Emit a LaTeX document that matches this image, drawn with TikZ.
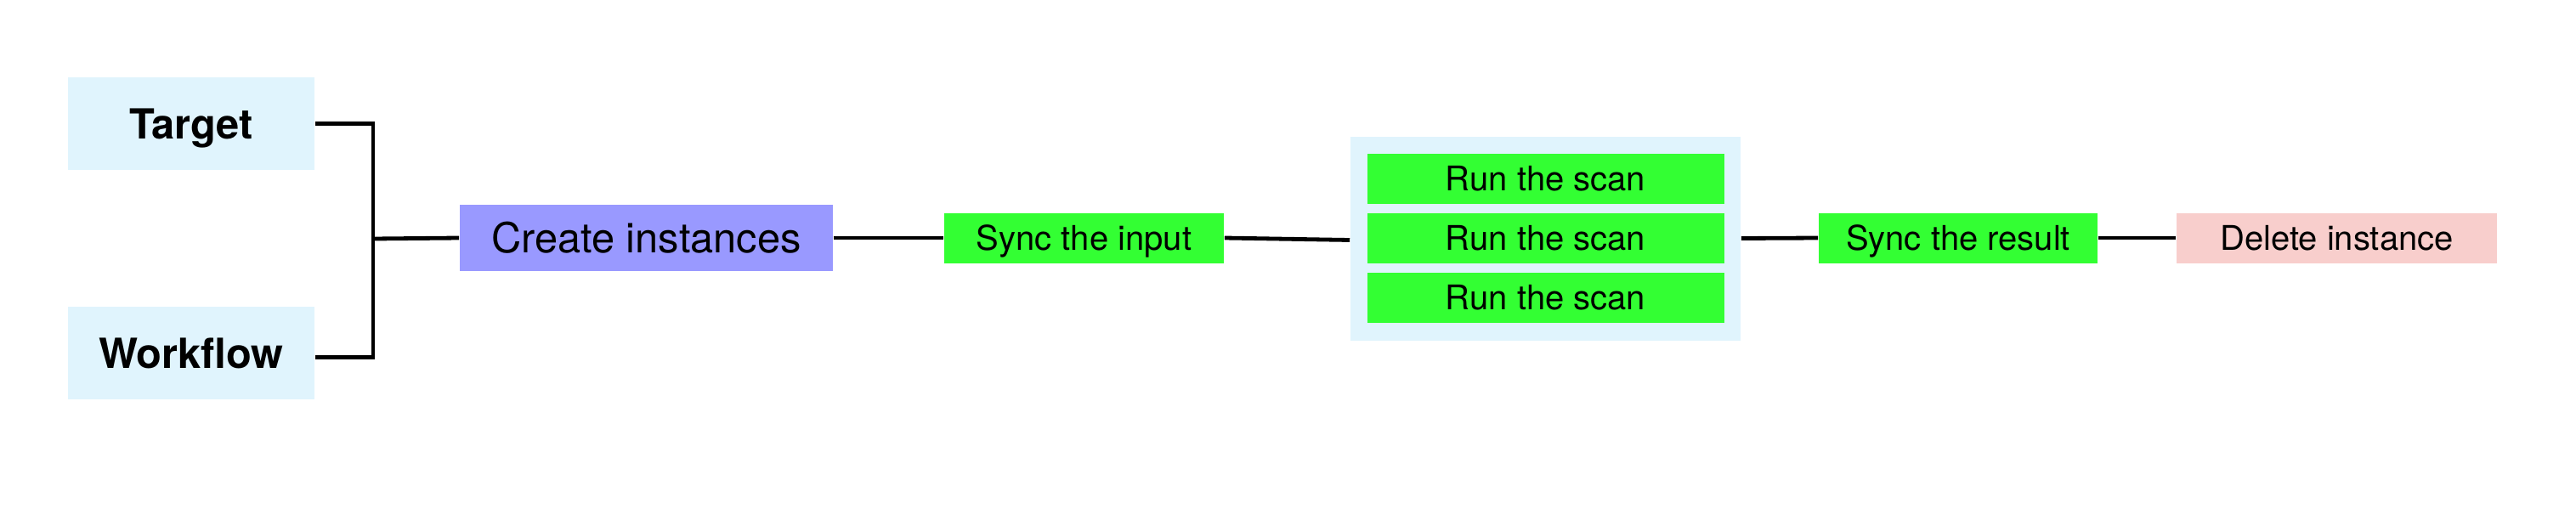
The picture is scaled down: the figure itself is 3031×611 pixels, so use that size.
\documentclass[tikz,border=0pt]{standalone}
\usepackage{fontspec}
\setmainfont{TeX Gyre Heros}
\usetikzlibrary{calc}
\definecolor{lblue}{RGB}{224,244,253}
\definecolor{cpurple}{RGB}{153,153,255}
\definecolor{cgreen}{RGB}{51,255,51}
\definecolor{cpink}{RGB}{248,206,204}
\tikzset{
  box/.style={inner sep=0pt, draw=none, align=center, text depth=0pt},
  bigtxt/.style={font=\fontsize{12.2}{14}\selectfont, text height=8.76pt},
  boldtxt/.style={font=\fontsize{12.2}{14}\selectfont\bfseries, text height=8.76pt},
  smalltxt/.style={font=\fontsize{10}{12}\selectfont, text height=7.18pt},
  conn/.style={line width=1.2pt, draw=black},
}
\begin{document}
\begin{tikzpicture}[x=0.25pt,y=-0.25pt]
\useasboundingbox (0,0) rectangle (3031,611);
% input boxes
\node[box, fill=lblue, minimum width=72.5pt, minimum height=27.25pt, boldtxt] (tg) at (225,145.5) {Target};
\node[box, fill=lblue, minimum width=72.5pt, minimum height=27.25pt, boldtxt] (wf) at (225,415.5) {Workflow};
\node[box, fill=cpurple, minimum width=109.75pt, minimum height=19.5pt, bigtxt] (ci) at (760.5,280) {Create instances};
\node[box, fill=cgreen, minimum width=82.25pt, minimum height=14.75pt, smalltxt] (si) at (1275.5,280) {Sync the input};
% container
\node[box, fill=lblue, minimum width=114.75pt, minimum height=60pt] (ct) at (1818.5,280.5) {};
\node[box, fill=cgreen, minimum width=105pt, minimum height=14.75pt, smalltxt] (r1) at (1818.5,210.5) {Run the scan};
\node[box, fill=cgreen, minimum width=105pt, minimum height=14.75pt, smalltxt] (r2) at (1818.5,280.5) {Run the scan};
\node[box, fill=cgreen, minimum width=105pt, minimum height=14.75pt, smalltxt] (r3) at (1818.5,350.5) {Run the scan};
\node[box, fill=cgreen, minimum width=82pt, minimum height=14.75pt, smalltxt] (sr) at (2304,280) {Sync the result};
\node[box, fill=cpink, minimum width=94.25pt, minimum height=14.75pt, smalltxt] (dl) at (2749.5,280) {Delete instance};
% junction
\coordinate (j) at (439,281);
\draw[conn] (tg.east) -| (j);
\draw[conn] ($(wf.east)+(0,5)$) -| (j);
\draw[conn] (j) -- (ci.west);
\draw[conn] (ci.east) -- (si.west);
\draw[conn] (si.east) -- ($(ct.west)+(0,2)$);
\draw[conn] (ct.east) -- (sr.west);
\draw[conn] (sr.east) -- (dl.west);
\end{tikzpicture}
\end{document}
